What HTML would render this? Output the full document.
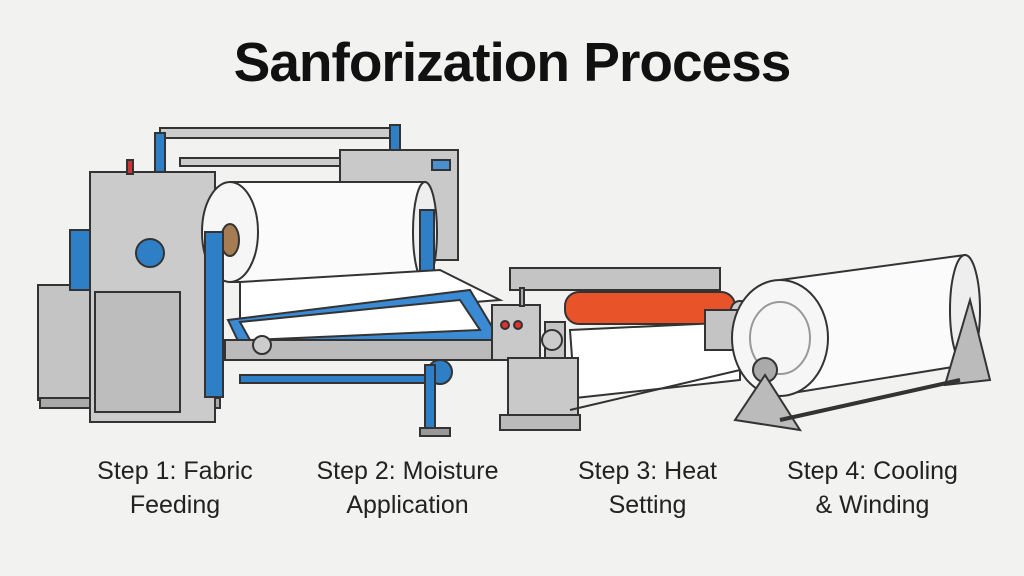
<!DOCTYPE html>
<html><head><meta charset="utf-8"><style>
html,body{margin:0;padding:0;background:#f2f2f1;}
body{width:1024px;height:576px;overflow:hidden;position:relative;font-family:"Liberation Sans",Arial,sans-serif;}
.t{position:absolute;left:0;width:1024px;text-align:center;top:30px;font-size:55px;font-weight:bold;color:#111;letter-spacing:-1px;}
.l{position:absolute;font-size:25px;color:#222;text-align:center;line-height:34px;}
</style></head><body>
<svg width="1024" height="576" style="position:absolute;left:0;top:0">
<g stroke="#333" stroke-width="2">
<rect x="160" y="128" width="240" height="10" fill="#ccc"/>
<rect x="155" y="133" width="10" height="40" fill="#2f7fc6"/>
<rect x="390" y="125" width="10" height="55" fill="#2f7fc6"/>
<rect x="180" y="158" width="220" height="8" fill="#ccc"/>
<rect x="340" y="150" width="118" height="110" fill="#c9c9c9"/>
<rect x="432" y="160" width="18" height="10" fill="#4a8fd0"/>
<rect x="38" y="285" width="60" height="115" fill="#c4c4c4"/>
<rect x="40" y="398" width="180" height="10" fill="#aaa"/>
<rect x="70" y="230" width="25" height="60" fill="#2f7fc6"/>
<rect x="90" y="172" width="125" height="250" fill="#cbcbcb"/>
<rect x="95" y="292" width="85" height="120" fill="#bdbdbd"/>
<circle cx="150" cy="253" r="14" fill="#2f7fc6"/>
<rect x="127" y="160" width="6" height="14" fill="#c33"/>
<rect x="230" y="182" width="195" height="100" fill="#fbfbfb"/>
<ellipse cx="230" cy="232" rx="28" ry="50" fill="#f6f6f6"/>
<ellipse cx="230" cy="240" rx="9" ry="16" fill="#a67c52"/>
<ellipse cx="425" cy="232" rx="12" ry="50" fill="#eee"/>
<rect x="205" y="232" width="18" height="165" fill="#2f7fc6"/>
<rect x="420" y="210" width="14" height="110" fill="#2f7fc6"/>
<polygon points="240,282 440,270 500,300 240,320" fill="#fff"/>
<polygon points="228,320 470,290 500,340 240,345" fill="#3a8ad4"/>
<polygon points="240,322 460,300 480,330 250,340" fill="#fff"/>
<rect x="225" y="340" width="270" height="20" fill="#bbb"/>
<rect x="240" y="375" width="200" height="8" fill="#2f7fc6"/>
<circle cx="262" cy="345" r="9" fill="#ccc"/>
<circle cx="440" cy="372" r="12" fill="#2f7fc6"/>
<rect x="425" y="365" width="10" height="70" fill="#2f7fc6"/>
<rect x="420" y="428" width="30" height="8" fill="#999"/>
<rect x="510" y="268" width="210" height="22" fill="#c4c4c4"/>
<rect x="492" y="305" width="48" height="55" fill="#c9c9c9"/>
<circle cx="505" cy="325" r="4" fill="#d33"/><circle cx="518" cy="325" r="4" fill="#d33"/>
<rect x="520" y="288" width="4" height="18" fill="#aaa"/>
<rect x="565" y="292" width="170" height="32" rx="14" fill="#e8532a"/>
<rect x="545" y="322" width="20" height="100" fill="#c4c4c4"/>
<polygon points="570,330 740,322 740,380 575,398" fill="#fff"/>
<rect x="508" y="358" width="70" height="60" fill="#c9c9c9"/>
<rect x="500" y="415" width="80" height="15" fill="#bbb"/>
<circle cx="552" cy="340" r="10" fill="#ccc"/>
<circle cx="740" cy="310" r="9" fill="#ccc"/>
<rect x="705" y="310" width="45" height="40" fill="#c4c4c4"/>
<line x1="570" y1="410" x2="740" y2="370" />
<path d="M780,280 L965,255 L965,365 L780,395" fill="#fbfbfb"/>
<ellipse cx="965" cy="310" rx="15" ry="55" fill="#eee"/>
<ellipse cx="780" cy="338" rx="48" ry="58" fill="#f6f6f6"/>
<ellipse cx="780" cy="338" rx="30" ry="36" fill="none" stroke="#999"/>
<circle cx="765" cy="370" r="12" fill="#aaa"/>
<polygon points="735,420 765,375 800,430" fill="#bbb"/>
<polygon points="945,385 970,300 990,380" fill="#bbb"/>
<line x1="780" y1="420" x2="960" y2="380" stroke-width="4"/>
</g>
</svg>
<div class="t">Sanforization Process</div>
<div class="l" style="left:75px;top:454px;width:200px">Step 1: Fabric<br>Feeding</div>
<div class="l" style="left:300px;top:454px;width:215px">Step 2: Moisture<br>Application</div>
<div class="l" style="left:555px;top:454px;width:185px">Step 3: Heat<br>Setting</div>
<div class="l" style="left:765px;top:454px;width:215px">Step 4: Cooling<br>&amp; Winding</div>
</body></html>
